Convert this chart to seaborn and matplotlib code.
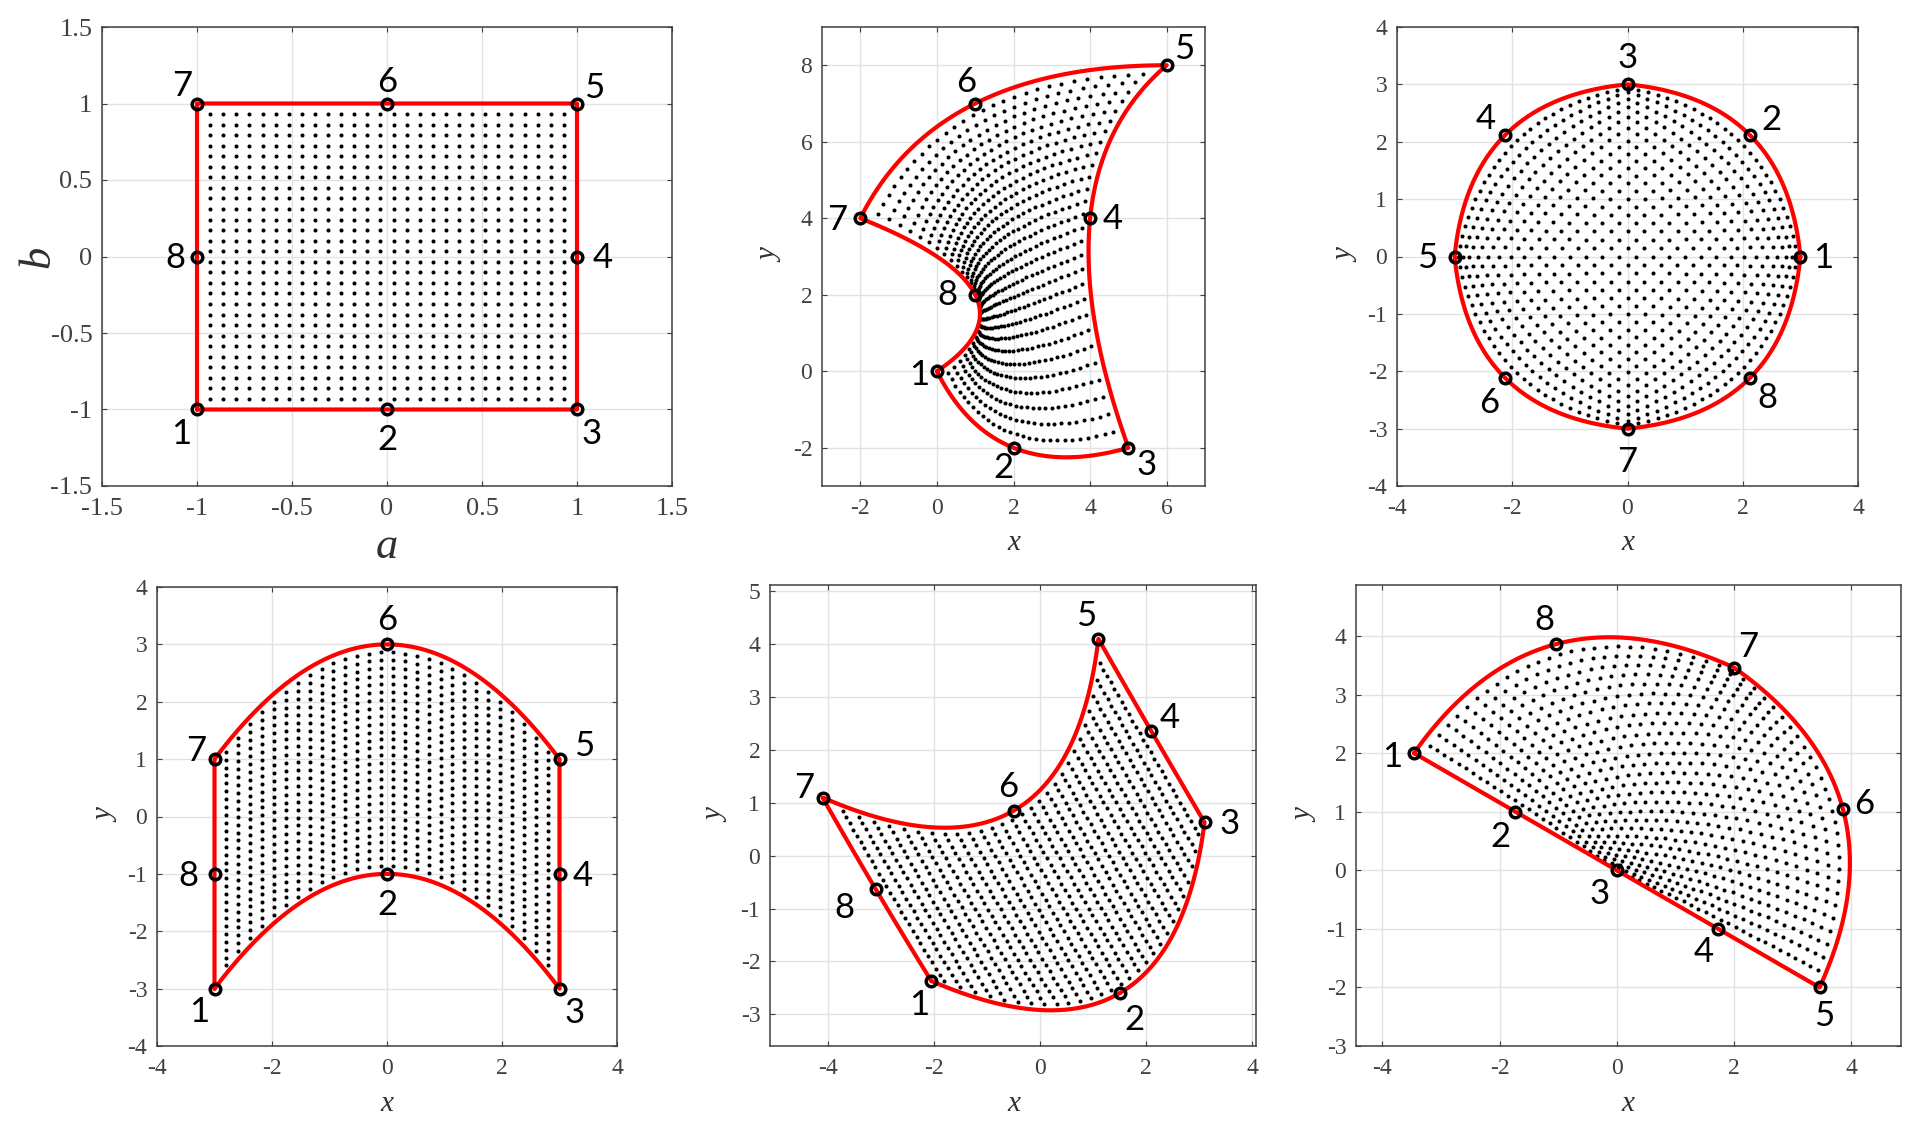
import numpy as np
import matplotlib
matplotlib.use("Agg")
import matplotlib.pyplot as plt
from matplotlib import font_manager as fm
import seaborn as sns

# Node coordinates (nodes 1..8 of each panel).
# NOTE: the interior dots and curved red edges are NOT read point by point;
# they are derived from these nodes with the 8-node quadratic shape functions.
p1_x = [-1, 0, 1, 1, 1, 0, -1, -1]
p1_y = [-1, -1, -1, 0, 1, 1, 1, 0]
p2_x = [0, 2, 5, 4, 6, 1, -2, 1]
p2_y = [0, -2, -2, 4, 8, 7, 4, 2]
p3_x = [3, 2.12, 0, -2.12, -3, -2.12, 0, 2.12]
p3_y = [0, 2.12, 3, 2.12, 0, -2.12, -3, -2.12]
p4_x = [-3, 0, 3, 3, 3, 0, -3, -3]
p4_y = [-3, -1, -3, -1, 1, 3, 1, -1]
p5_x = [-2.05, 1.5, 3.1, 2.1, 1.1, -0.5, -4.1, -3.1]
p5_y = [-2.37, -2.6, 0.63, 2.35, 4.1, 0.85, 1.1, -0.63]
p6_x = [-3.46, -1.73, 0, 1.73, 3.46, 3.86, 2, -1.04]
p6_y = [2, 1, 0, -1, -2, 1.04, 3.46, 3.86]
node_names = ["1", "2", "3", "4", "5", "6", "7", "8"]

W, H = 1927, 1125
sns.set_theme(style="white")
plt.rcParams["path.simplify"] = False

serif_faces = {(f.style, f.weight): f.fname for f in fm.fontManager.ttflist if f.name == "Liberation Serif"}
if not serif_faces:
    raise SystemExit("no Liberation Serif; have " + ", ".join(sorted({f.name for f in fm.fontManager.ttflist})))
regular = next(v for k, v in serif_faces.items() if k[0] == "normal" and k[1] in (400, "normal", "regular"))
italic = next(v for k, v in serif_faces.items() if k[0] == "italic" and k[1] in (400, "normal", "regular"))


def shape(a, b):
    return [
        -0.25 * (1 - a) * (1 - b) * (1 + a + b),
        0.5 * (1 - a * a) * (1 - b),
        -0.25 * (1 + a) * (1 - b) * (1 - a + b),
        0.5 * (1 + a) * (1 - b * b),
        -0.25 * (1 + a) * (1 + b) * (1 - a - b),
        0.5 * (1 - a * a) * (1 + b),
        -0.25 * (1 - a) * (1 + b) * (1 + a - b),
        0.5 * (1 - a) * (1 - b * b),
    ]


def mapped(a, b, xs, ys):
    n = shape(a, b)
    return sum(k * v for k, v in zip(n, xs)), sum(k * v for k, v in zip(n, ys))


grid = np.linspace(-1, 1, 30)[1:-1]
A, B = np.meshgrid(grid, grid)
A, B = A.ravel(), B.ravel()
t = np.linspace(-1, 1, 60)
one = np.ones_like(t)
edge_a = np.r_[t, one, -t, -one]
edge_b = np.r_[-one, t, one, -t]

panels = [
    dict(box=(102, 672, 27, 486), xs=p1_x, ys=p1_y, xlim=(-1.5, 1.5), ylim=(-1.5, 1.5),
         xt=[-1.5, -1, -.5, 0, .5, 1, 1.5], yt=[-1.5, -1, -.5, 0, .5, 1, 1.5],
         off=[(-16, -22), (0, -28), (15, -22), (26, 0), (17, 18), (0, 23), (-15, 20), (-22, 0)],
         xl="a", yl="b", xlpos=(387, 547), ylpos=(38, 257), lsize=32, tsize=19),
    dict(box=(822, 1205, 27, 486), xs=p2_x, ys=p2_y, xlim=(-3, 7), ylim=(-3, 9),
         xt=[-2, 0, 2, 4, 6], yt=[-2, 0, 2, 4, 6, 8],
         off=[(-18, -2), (-10, -18), (18, -15), (23, 1), (17, 18), (-9, 23), (-23, 0), (-28, 2)],
         xl="x", yl="y", xlpos=(1014, 543), ylpos=(770, 256), lsize=21, tsize=17),
    dict(box=(1397, 1858, 27, 486), xs=p3_x, ys=p3_y, xlim=(-4, 4), ylim=(-4, 4),
         xt=[-4, -2, 0, 2, 4], yt=[-4, -3, -2, -1, 0, 1, 2, 3, 4],
         off=[(23, 1), (22, 17), (0, 28), (-20, 18), (-27, 0), (-16, -23), (0, -31), (18, -18)],
         xl="x", yl="y", xlpos=(1628, 543), ylpos=(1346, 256), lsize=21, tsize=17),
    dict(box=(157, 617, 587, 1046), xs=p4_x, ys=p4_y, xlim=(-4, 4), ylim=(-4, 4),
         xt=[-4, -2, 0, 2, 4], yt=[-4, -3, -2, -1, 0, 1, 2, 3, 4],
         off=[(-15, -21), (0, -29), (15, -22), (23, 0), (25, 15), (0, 26), (-18, 10), (-26, 0)],
         xl="x", yl="y", xlpos=(387, 1104), ylpos=(106, 816), lsize=21, tsize=17),
    dict(box=(770, 1256, 585, 1046), xs=p5_x, ys=p5_y, xlim=(-5.09, 4.07), ylim=(-3.6, 5.12),
         xt=[-4, -2, 0, 2, 4], yt=[-3, -2, -1, 0, 1, 2, 3, 4, 5],
         off=[(-12, -22), (15, -25), (25, 0), (18, 15), (-12, 25), (-5, 26), (-18, 12), (-31, -17)],
         xl="x", yl="y", xlpos=(1014, 1104), ylpos=(716, 816), lsize=21, tsize=17),
    dict(box=(1356, 1901, 585, 1046), xs=p6_x, ys=p6_y, xlim=(-4.45, 4.85), ylim=(-3, 4.87),
         xt=[-4, -2, 0, 2, 4], yt=[-3, -2, -1, 0, 1, 2, 3, 4],
         off=[(-22, -2), (-15, -23), (-17, -22), (-14, -21), (5, -27), (21, 7), (14, 23), (-11, 26)],
         xl="x", yl="y", xlpos=(1628, 1104), ylpos=(1305, 816), lsize=21, tsize=17),
]


def fmt(v):
    return f"{v:g}"


fig = plt.figure(figsize=(W / 100, H / 100), dpi=100, facecolor="white")
for p in panels:
    l, r, top, bot = p["box"]
    ax = fig.add_axes([l / W, 1 - bot / H, (r - l) / W, (bot - top) / H])
    xs, ys = p["xs"], p["ys"]

    dx, dy = mapped(A, B, xs, ys)
    sns.scatterplot(x=dx, y=dy, s=8.5, color="black", linewidth=0, ax=ax, zorder=3, legend=False)
    ex, ey = mapped(edge_a, edge_b, xs, ys)
    sns.lineplot(x=ex, y=ey, sort=False, estimator=None, color="#ff0000", linewidth=3,
                 ax=ax, zorder=4, legend=False)
    ax.lines[-1].set_snap(False)
    ax.plot(xs, ys, ls="none", marker="o", ms=7.6, mfc="none", mec="black", mew=2.5, zorder=5)

    for name, x0, y0, off in zip(node_names, xs, ys, p["off"]):
        ax.annotate(name, (x0, y0), xytext=(off[0], off[1] - 2), textcoords="offset pixels", ha="center",
                    va="center", fontsize=25, color="black", fontfamily="Lato", zorder=6,
                    annotation_clip=False)

    ax.set_xlim(*p["xlim"])
    ax.set_ylim(*p["ylim"])
    ax.set_xticks(p["xt"], [fmt(v) for v in p["xt"]])
    ax.set_yticks(p["yt"], [fmt(v) for v in p["yt"]])
    ax.grid(True, color="#e2e2e2", linewidth=1.0)
    ax.set_axisbelow(True)
    ax.tick_params(axis="both", direction="in", length=3.5, width=0.8, color="#404040",
                   labelcolor="#404040", top=True, right=True, bottom=True, left=True)
    ax.tick_params(axis="x", pad=9)
    ax.tick_params(axis="y", pad=7)
    tick_fp = fm.FontProperties(fname=regular, size=p["tsize"])
    for lab in ax.get_xticklabels() + ax.get_yticklabels():
        lab.set_fontproperties(tick_fp)
    for s in ax.spines.values():
        s.set_visible(True)
        s.set_color("#404040")
        s.set_linewidth(1.1)

    lab_fp = fm.FontProperties(fname=italic, size=p["lsize"])
    ax.set_xlabel(p["xl"], fontproperties=lab_fp, color="#303030", va="center", ha="center")
    ax.set_ylabel(p["yl"], fontproperties=lab_fp, color="#303030", va="center", ha="center")
    ax.xaxis.set_label_coords((p["xlpos"][0] - l) / (r - l), (bot - p["xlpos"][1]) / (bot - top))
    ax.yaxis.set_label_coords((p["ylpos"][0] - l) / (r - l), (bot - p["ylpos"][1]) / (bot - top))

fig.savefig("out.png", dpi=100, facecolor="white")
